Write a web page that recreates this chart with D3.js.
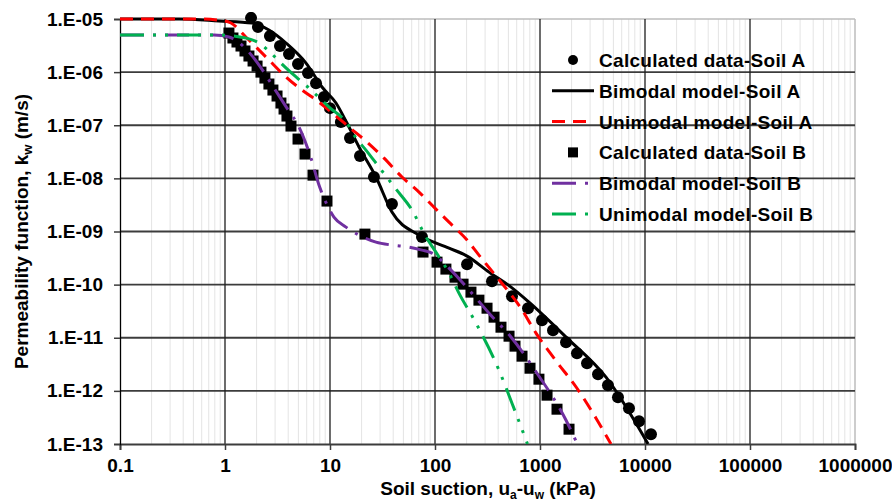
<!DOCTYPE html>
<html><head><meta charset="utf-8">
<script src="https://cdn.jsdelivr.net/npm/d3@7"></script>
<style>
body{margin:0;background:#fff;}
text{font-family:"Liberation Sans",Arial,sans-serif;font-weight:bold;fill:#000;}
</style></head>
<body><svg id="chart" width="892" height="502"></svg>
<script>
const xTicks=[0.1,1,10,100,1000,10000,100000,1000000];
const xTickLabels=["0.1","1","10","100","1000","10000","100000","1000000"];
const yTicks=[1e-5,1e-6,1e-7,1e-8,1e-9,1e-10,1e-11,1e-12,1e-13];
const yTickLabels=["1.E-05","1.E-06","1.E-07","1.E-08","1.E-09","1.E-10","1.E-11","1.E-12","1.E-13"];

const soilA_x=[1.77,2.06,2.68,3.34,4.07,4.96,6.17,7.36,8.77,10.0,12.7,15.5,19.3,26.2,38.9,75.2,202,349,541,769,1045,1330,1770,2250,2805,3570,4440,5530,7040,8770,11400];
const soilA_k=[1.05e-5,7.06e-6,4.78e-6,3.1e-6,2.19e-6,1.42e-6,9.6e-7,6.2e-7,3.4e-7,2.1e-7,1.15e-7,5.75e-8,2.63e-8,1.06e-8,3.28e-9,7.85e-10,2.43e-10,1.16e-10,6.07e-11,3.6e-11,2.14e-11,1.39e-11,8.26e-12,5.13e-12,3.32e-12,2.06e-12,1.28e-12,7.6e-13,4.72e-13,2.69e-13,1.53e-13];

const soilB_x=[1.09,1.19,1.30,1.42,1.55,1.69,1.85,2.02,2.20,2.40,2.62,2.86,3.13,3.41,3.65,3.89,4.25,4.96,5.78,6.89,9.36,21.5,76.9,104.5,127,155,185,220,262,313,365,425,507,578,674,803,977,1167,1452,1890];
const soilB_k=[5.44e-6,4.39e-6,3.69e-6,3.1e-6,2.5e-6,2.01e-6,1.62e-6,1.3e-6,1.0e-6,7.74e-7,5.97e-7,4.6e-7,3.55e-7,2.62e-7,2.02e-7,1.49e-7,9.66e-8,5.5e-8,2.87e-8,1.15e-8,3.74e-9,8.93e-10,4.1e-10,2.65e-10,1.96e-10,1.38e-10,1.02e-10,7.22e-11,5.1e-11,3.6e-11,2.44e-11,1.58e-11,1.07e-11,6.95e-12,4.5e-12,2.67e-12,1.66e-12,8.3e-13,4.52e-13,1.9e-13];

const bimA_x=[0.1,0.365,0.877,1.81,2.62,3.81,5.91,8.39,11.4,14.5,18.9,27.4,38.9,70.4,136,202,327,530,785,1770,4250,10700];
const bimA_k=[1e-5,1e-5,9.2e-6,8.4e-6,6.2e-6,3.53e-6,1.48e-6,5.25e-7,2.62e-7,1.1e-7,3.89e-8,1.06e-8,2.32e-9,8.55e-10,4.87e-10,3.44e-10,1.72e-10,8.97e-11,4.68e-11,1.03e-11,1.81e-12,1e-13];

const uniA_x=[0.1,0.565,0.978,1.14,1.58,2.46,3.81,5.41,7.85,11.7,15.2,22.5,32.7,48.5,70.4,102,136,202,262,381,507,659,916,1452,2250,3415,4744];
const uniA_k=[1e-5,1e-5,9.2e-6,8.4e-6,4.58e-6,1.92e-6,8.1e-7,4.6e-7,2.73e-7,1.43e-7,9.24e-8,4.83e-8,2.41e-8,1.06e-8,5.52e-9,2.64e-9,1.5e-9,6.89e-10,3.6e-10,1.45e-10,7.23e-11,3.6e-11,1.22e-11,3.47e-12,1.12e-12,3.06e-13,1.0e-13];

const bimB_x=[0.1,0.786,1.09,1.52,2.11,2.93,3.89,5.07,6.59,7.85,8.77,10.9,14.2,18.9,27.4,38.9,56.5,75.2,93.6,136,211,327,541,936,1770,2250];
const bimB_k=[5e-6,5e-6,4.58e-6,2.97e-6,1.36e-6,5.0e-7,2.1e-7,9.24e-8,2.41e-8,7.48e-9,4.26e-9,1.87e-9,1.21e-9,8.55e-10,6.31e-10,5.55e-10,5.08e-10,4.46e-10,3.92e-10,2.05e-10,7.94e-11,2.9e-11,9.8e-12,2.15e-12,2.8e-13,1.03e-13];

const uniB_x=[0.1,0.877,1.22,1.58,2.11,2.74,3.41,4.75,6.31,9.78,14.5,17.7,22.0,29.3,42.5,60.4,82.1,102,136,169,246,407,541,760];
const uniB_k=[5e-6,5e-6,4.78e-6,4.39e-6,3.53e-6,2.29e-6,1.48e-6,8.1e-7,5.0e-7,2.2e-7,1.1e-7,5.75e-8,3.41e-8,1.63e-8,6.3e-9,2.53e-9,7.85e-10,4.09e-10,1.65e-10,6.92e-11,1.88e-11,2.45e-12,5.86e-13,1e-13];

const legendLabels=["Calculated data-Soil A","Bimodal model-Soil A","Unimodal model-Soil A","Calculated data-Soil B","Bimodal model-Soil B","Unimodal model-Soil B"];

const L=120,R=855,T=19,B=444;
const svg=d3.select("#chart");
svg.append("rect").attr("width",892).attr("height",502).attr("fill","#fff");
const x=d3.scaleLog().domain([0.1,1e6]).range([L,R]);
const y=d3.scaleLog().domain([1e-13,1e-5]).range([B,T]);

// minor vertical grid
const minor=[];
for(let e=-1;e<6;e++){for(let m=2;m<=9;m++){minor.push(m*Math.pow(10,e));}}
svg.append("g").selectAll("line").data(minor).join("line")
 .attr("x1",d=>x(d)).attr("x2",d=>x(d)).attr("y1",T).attr("y2",B)
 .attr("stroke","#e4e4e4").attr("stroke-width",1);
// frame top/right
svg.append("line").attr("x1",L).attr("x2",R).attr("y1",T).attr("y2",T).attr("stroke","#bdbdbd").attr("stroke-width",1.5);
svg.append("line").attr("x1",R).attr("x2",R).attr("y1",T).attr("y2",B).attr("stroke","#bdbdbd").attr("stroke-width",1.5);
// major grids
svg.append("g").selectAll("line").data(yTicks.slice(1,-1)).join("line")
 .attr("x1",L).attr("x2",R).attr("y1",d=>y(d)).attr("y2",d=>y(d))
 .attr("stroke","#3c3c3c").attr("stroke-width",1.8);
svg.append("g").selectAll("line").data(xTicks.slice(1,-1)).join("line")
 .attr("x1",d=>x(d)).attr("x2",d=>x(d)).attr("y1",T).attr("y2",B)
 .attr("stroke","#1e1e1e").attr("stroke-width",1.3);

// axes
const xAxis=d3.axisBottom(x).tickValues(xTicks).tickFormat((d,i)=>xTickLabels[i]).tickSize(6).tickPadding(8.5);
const gx=svg.append("g").attr("transform",`translate(0,${B})`).call(xAxis);
const yAxis=d3.axisLeft(y).tickValues(yTicks).tickFormat((d,i)=>yTickLabels[i]).tickSize(6).tickPadding(11);
const gy=svg.append("g").attr("transform",`translate(${L},0)`).call(yAxis);
[gx,gy].forEach(g=>{
  g.select(".domain").attr("stroke","#3c3c3c").attr("stroke-width",1.8);
  g.selectAll(".tick line").attr("stroke","#3c3c3c").attr("stroke-width",1.5);
  g.selectAll(".tick text").style("font-family",'"Liberation Sans",Arial,sans-serif').style("font-weight","bold").style("font-size","19px").attr("fill","#000");
});
gy.select(".domain").attr("stroke","#000").attr("stroke-width",1.3);

// axis titles
const yt=svg.append("text").attr("transform","translate(28,231.5) rotate(-90)").attr("text-anchor","middle").style("font-size","19px");
yt.append("tspan").text("Permeability function, k");
yt.append("tspan").text("w").style("font-size","13px").attr("dy",4);
yt.append("tspan").text(" (m/s)").attr("dy",-4);
const xt=svg.append("text").attr("x",488).attr("y",495).attr("text-anchor","middle").style("font-size","19px");
xt.append("tspan").text("Soil suction, u");
xt.append("tspan").text("a").style("font-size","12px").attr("dy",3.5);
xt.append("tspan").text("-u").attr("dy",-3.5);
xt.append("tspan").text("w").style("font-size","12px").attr("dy",3.5);
xt.append("tspan").text(" (kPa)").attr("dy",-3.5);

// clip
svg.append("clipPath").attr("id","clip").append("rect").attr("x",L).attr("y",T-7).attr("width",R-L).attr("height",B-T+7);
const plot=svg.append("g").attr("clip-path","url(#clip)");
const line=d3.line().x(d=>x(d[0])).y(d=>y(d[1])).curve(d3.curveMonotoneX);
const zip=(a,b)=>a.map((v,i)=>[v,b[i]]);

const styles={
  bimA:{stroke:"#000",dash:null,w:3},
  uniA:{stroke:"#ff0000",dash:"13,8",w:3},
  bimB:{stroke:"#7030a0",dash:"24,9,3,9",w:3},
  uniB:{stroke:"#00b050",dash:"24,9,3,9,3,9",w:3}
};
function drawLine(xs,ks,s){
  plot.append("path").datum(zip(xs,ks)).attr("d",line).attr("fill","none")
   .attr("stroke",s.stroke).attr("stroke-width",s.w).attr("stroke-dasharray",s.dash);
}
plot.append("g").selectAll("circle").data(zip(soilA_x,soilA_k)).join("circle")
 .attr("cx",d=>x(d[0])).attr("cy",d=>y(d[1])).attr("r",6).attr("fill","#000");
drawLine(bimA_x,bimA_k,styles.bimA);
drawLine(uniA_x,uniA_k,styles.uniA);
plot.append("g").selectAll("rect").data(zip(soilB_x,soilB_k)).join("rect")
 .attr("x",d=>x(d[0])-5.5).attr("y",d=>y(d[1])-5.5).attr("width",11).attr("height",11).attr("fill","#000");
drawLine(bimB_x,bimB_k,styles.bimB);
drawLine(uniB_x,uniB_k,styles.uniB);

// legend
const lx=573, ly0=60, dy=30.8;
const lg=svg.append("g");
legendLabels.forEach((lab,i)=>{
  const cy=ly0+i*dy;
  if(i===0) lg.append("circle").attr("cx",lx).attr("cy",cy).attr("r",5).attr("fill","#000");
  else if(i===3) lg.append("rect").attr("x",lx-5).attr("y",cy-5).attr("width",10).attr("height",10).attr("fill","#000");
  else {
    const s=[null,styles.bimA,styles.uniA,null,styles.bimB,styles.uniB][i];
    lg.append("line").attr("x1",552).attr("x2",594).attr("y1",cy).attr("y2",cy)
      .attr("stroke",s.stroke).attr("stroke-width",s.w).attr("stroke-dasharray",s.dash);
  }
  lg.append("text").attr("x",599).attr("y",cy+7).style("font-size","19px").style("letter-spacing","0.3px").text(lab);
});
</script></body></html>
